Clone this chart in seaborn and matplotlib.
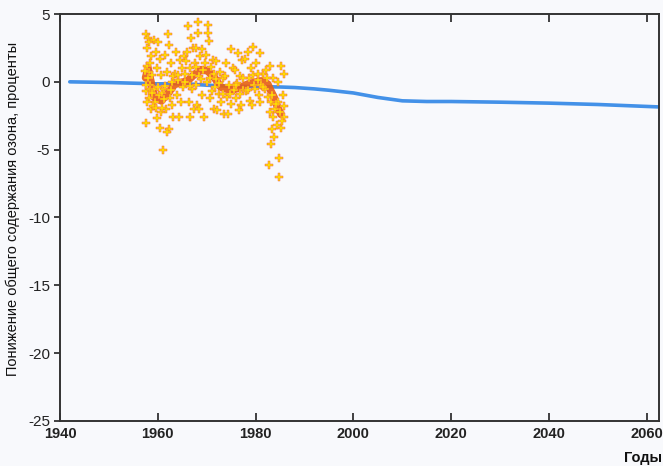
import matplotlib
matplotlib.use('Agg')
import matplotlib.pyplot as plt
import seaborn as sns

# Model (blue) curve
model_years = [1942, 1950, 1960, 1965, 1970, 1975, 1980, 1985, 1988, 1992, 1995, 2000,
               2005, 2010, 2015, 2020, 2030, 2040, 2050, 2062.5]
model_values = [0.0, -0.05, -0.15, -0.12, -0.25, -0.32, -0.35, -0.38, -0.42, -0.52, -0.62, -0.82,
                -1.15, -1.4, -1.45, -1.45, -1.5, -1.57, -1.67, -1.85]

# Smoothed observation trend (orange)
trend_years = [1957.5, 1958.0, 1959.3, 1960.7, 1962.0, 1963.4, 1964.8, 1966.1, 1967.5, 1968.9,
               1970.2, 1971.6, 1972.9, 1974.3, 1975.7, 1977.0, 1978.4, 1979.7, 1981.1, 1982.5,
               1983.1, 1983.8, 1984.5, 1985.2]
trend_values = [0.3, 1.0, -1.15, -1.4, -0.9, -0.2, -0.05, 0.07, 0.55, 0.9,
                0.8, 0.3, -0.4, -0.55, -0.55, -0.4, -0.17, -0.05, 0.07, -0.17,
                -0.65, -1.15, -1.9, -2.4]

# Observations (crosses)
obs_years = [
    1957.6, 1957.9, 1958.3, 1957.8, 1958.6, 1957.7, 1958.2, 1957.9, 1958.5, 1957.6, 1958.1, 1958.7, 1957.5, 1958.8, 1958.4,
    1959.3, 1960.0, 1959.6, 1960.4, 1959.8, 1960.7, 1959.2, 1960.2, 1959.5, 1960.6, 1959.9, 1960.5, 1961.0, 1960.9, 1959.0,
    1962.0, 1962.3, 1961.5, 1962.8, 1961.8, 1963.0, 1961.3, 1962.5, 1961.7, 1963.2, 1962.2, 1961.9, 1962.9, 1961.2,
    1963.8, 1964.5, 1965.0, 1963.6, 1964.2, 1965.2, 1964.0, 1964.8, 1964.3, 1965.3,
    1966.1, 1966.8, 1967.3, 1966.0, 1965.8, 1966.5, 1967.0, 1965.6, 1966.9, 1966.3, 1967.4, 1966.6,
    1968.2, 1968.2, 1967.9, 1969.0, 1968.6, 1967.7, 1969.3, 1968.4, 1967.8, 1969.1, 1968.0, 1968.5, 1969.5,
    1970.2, 1970.3, 1970.5, 1969.9, 1971.2, 1970.8, 1971.4, 1970.0, 1971.0, 1970.6, 1971.5,
    1972.0, 1972.8, 1973.3, 1971.8, 1972.5, 1973.0, 1972.2, 1973.5,
    1974.9, 1974.0, 1975.3, 1973.8, 1974.6, 1975.5, 1974.2, 1975.0, 1974.4,
    1976.5, 1977.3, 1975.8, 1976.9, 1976.2, 1977.5, 1976.0, 1977.0, 1976.7,
    1979.4, 1978.4, 1977.9, 1979.0, 1978.6, 1979.6, 1978.1, 1978.8, 1979.2,
    1980.9, 1980.1, 1981.5, 1980.4, 1981.2, 1979.9, 1980.7, 1981.0,
    1983.0, 1982.2, 1983.5, 1981.9, 1982.6, 1983.2, 1982.9, 1983.6, 1983.3, 1983.8, 1983.1, 1982.8,
    1985.2, 1985.9, 1984.5, 1985.6, 1985.85, 1985.2, 1984.3, 1984.8, 1984.8, 1984.0, 1984.6,
    1957.4, 1957.6, 1957.8, 1958.4, 1958.9, 1959.6, 1960.1, 1960.9, 1961.4, 1962.6, 1963.1, 1964.1,
    1965.6, 1966.6, 1967.9, 1968.9, 1969.6, 1970.6, 1971.9, 1972.6, 1973.4, 1974.7, 1975.9, 1976.8,
    1977.5, 1978.5, 1979.4, 1980.4, 1981.6, 1982.4, 1983.4, 1984.1, 1984.9, 1985.4, 1985.8,
]
obs_values = [
    3.5, 3.2, 2.9, 2.5, 1.9, 1.2, 0.7, 0.25, -0.25, -0.7, -1.2, -2.0, -3.0, 0.5, -0.5,
    3.1, 2.9, 2.2, 1.7, 1.0, 0.5, -0.5, -1.0, -1.5, -2.2, -2.7, -3.4, -5.0, -0.8, -1.8,
    3.5, 2.7, 2.0, 1.4, 0.7, 0.0, -0.5, -1.2, -2.0, -2.6, -3.5, -3.7, -1.7, -1.3,
    2.2, 1.6, 1.0, 0.6, 0.1, -0.4, -1.0, -1.5, -2.6, 1.9,
    4.1, 3.2, 2.5, 2.2, 1.5, 1.0, 0.5, 0.0, -0.5, -1.5, -2.0, -2.6,
    4.4, 3.6, 2.5, 2.4, 1.9, 1.4, 0.9, 0.4, -0.25, -1.0, -1.7, -2.0, -2.6,
    4.2, 3.6, 3.0, 2.0, 1.6, 1.1, 0.6, 0.0, -0.7, -1.2, -2.0,
    1.5, 0.7, 0.25, -0.4, -0.9, -1.5, -2.1, -2.4,
    2.4, 1.4, 1.0, 0.4, -0.25, -0.6, -1.1, -1.6, -2.4,
    2.1, 1.6, 0.9, 0.4, -0.1, -0.6, -1.2, -1.7, -2.1,
    2.6, 2.2, 1.7, 1.0, 0.25, -0.25, -0.7, -1.4, -1.7,
    2.1, 1.4, 0.6, 0.1, -0.25, -0.5, -1.0, -1.5,
    1.2, 0.9, 0.25, -0.5, -1.1, -1.5, -2.2, -2.6, -3.5, -4.1, -4.6, -6.1,
    1.2, 0.6, 0.0, -1.0, -2.6, -3.4, -3.2, -5.6, -7.0, -2.0, -1.5,
    0.8, -0.2, -1.5, 1.4, -0.8, -1.9, -0.4, -1.9, -0.3, -0.6, 0.4, 0.5,
    0.6, -0.3, 1.1, 0.2, 1.4, 0.3, 0.2, -0.1, -0.9, -0.9, -0.2, -0.9,
    0.3, -0.6, 0.5, 0.6, -0.4, 0.3, -1.0, -1.6, -2.2, -2.9, -1.8,
]

x_ticks = [1940, 1960, 1980, 2000, 2020, 2040, 2060]
y_ticks = [5, 0, -5, -10, -15, -20, -25]

sns.set_theme(style='ticks')
plt.rcParams['font.family'] = ['Liberation Sans', 'DejaVu Sans']
plt.rcParams['axes.unicode_minus'] = False

bg = '#f8f9fc'
fig = plt.figure(figsize=(6.63, 4.66), dpi=100)
fig.patch.set_facecolor(bg)
ax = fig.add_axes([60 / 663, 1 - 421 / 466, 599 / 663, 407 / 466])
ax.set_facecolor(bg)

sns.lineplot(x=model_years, y=model_values, color='#4391e8', lw=2.6, ax=ax, zorder=2)
sns.lineplot(x=trend_years, y=trend_values, color='#e8600e', lw=5.5, alpha=0.9, ax=ax,
             sort=False, zorder=3)
sns.scatterplot(x=obs_years, y=obs_values, marker='P', s=40, color='#ffe000',
                edgecolor='#f06048', linewidth=0.35, alpha=1.0, ax=ax, zorder=4)

ax.set_xlim(1940, 2062.5)
ax.set_ylim(-25, 5)
ax.set_xticks(x_ticks)
ax.set_xticklabels([str(t) for t in x_ticks], fontsize=10.5, fontweight='bold')
ax.set_yticks(y_ticks)
ax.set_yticklabels([str(t) for t in y_ticks], fontsize=11)
ax.tick_params(axis='x', direction='in', top=True, length=6, width=1.2, pad=4, colors='#222222')
ax.tick_params(axis='y', direction='out', length=4, width=1.2, pad=3, colors='#222222')
for s in ax.spines.values():
    s.set_linewidth(1.4)
    s.set_color('#333333')

ax.set_xlabel('')
ax.set_ylabel('Понижение общего содержания озона, проценты', fontsize=10.5, color='#111111')
ax.yaxis.set_label_coords(-0.066, 0.52)

fig.text(643 / 663, 1 - 458 / 466, 'Годы', fontsize=10.5, fontweight='bold',
         ha='center', va='center', color='#111111')

fig.savefig('out.png', dpi=100, facecolor=bg)
